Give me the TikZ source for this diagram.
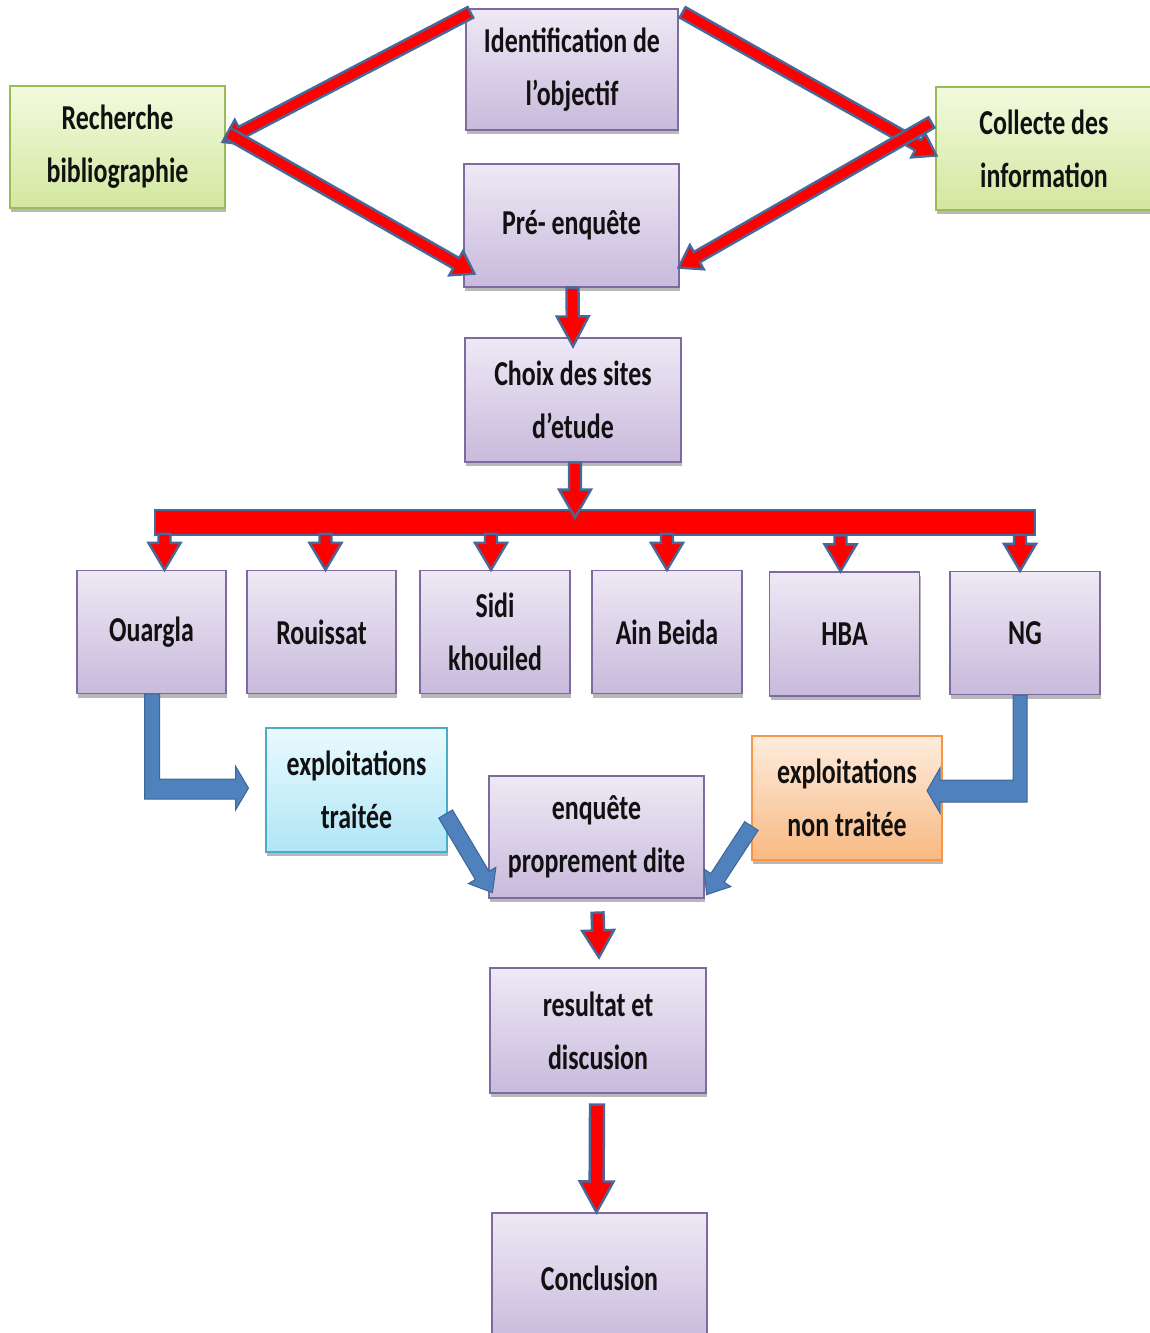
\documentclass[tikz,border=0pt]{standalone}
\usepackage{fontspec}
\setmainfont{Carlito}[FakeStretch=0.74]
\usetikzlibrary{calc,shadows}
\definecolor{lavtop}{HTML}{EEE9F5}
\definecolor{lavbot}{HTML}{C8BADC}
\definecolor{lavdraw}{HTML}{7F6A9F}
\definecolor{grtop}{HTML}{F3FADF}
\definecolor{grbot}{HTML}{D3E79F}
\definecolor{grdraw}{HTML}{9BBB59}
\definecolor{cytop}{HTML}{E9FAFE}
\definecolor{cybot}{HTML}{B0E5F6}
\definecolor{cydraw}{HTML}{4BACC6}
\definecolor{ortop}{HTML}{FDECDD}
\definecolor{orbot}{HTML}{F8B982}
\definecolor{ordraw}{HTML}{F79646}
\definecolor{arrred}{HTML}{FF0000}
\definecolor{arrblue}{HTML}{46699A}
\definecolor{bluefill}{HTML}{4F81BD}
\definecolor{bluedraw}{HTML}{3D6796}
\definecolor{txt}{HTML}{111111}
% #1 style, #2 start, #3 end, #4 half shaft, #5 half head, #6 head length
\newcommand\fatarrow[6]{%
  \coordinate (fas) at (#2);
  \coordinate (fae) at (#3);
  \coordinate (fah) at ($(fae)!#6!(fas)$);
  \path[#1] ($(fas)!#4!90:(fae)$) -- ($(fah)!#4!-90:(fas)$)
    -- ($(fah)!#5!-90:(fas)$) -- (fae) -- ($(fah)!#5!90:(fas)$)
    -- ($(fah)!#4!90:(fas)$) -- ($(fas)!#4!-90:(fae)$) -- cycle;
}
\begin{document}
\begin{tikzpicture}[x=1pt,y=-1pt,
  basebox/.style={rectangle, line width=1.2pt, inner sep=0pt, align=center,
    text=txt, font=\bfseries\fontsize{35}{53}\selectfont,
    drop shadow={shadow xshift=1pt, shadow yshift=-4pt, fill=black, opacity=0.28}},
  lav/.style={basebox, draw=lavdraw, top color=lavtop, bottom color=lavbot},
  grn/.style={basebox, draw=grdraw, top color=grtop, bottom color=grbot},
  cya/.style={basebox, draw=cydraw, top color=cytop, bottom color=cybot},
  ora/.style={basebox, draw=ordraw, top color=ortop, bottom color=orbot},
  redarr/.style={fill=arrred, draw=arrblue, line width=2.4pt, line join=miter},
  bluearr/.style={fill=bluefill, draw=bluedraw, line width=1pt, line join=miter},
]
\useasboundingbox[fill=white] (0,0) rectangle (1150,1333);

% nodes
\node[lav, minimum width=212, minimum height=121] (ident) at (572,69.5) {Identification de\\l’objectif};
\node[grn, minimum width=215, minimum height=122] (rech) at (117.5,147) {Recherche\\bibliographie};
\node[grn, minimum width=216, minimum height=123] (coll) at (1044,148.5) {Collecte des\\information};
\node[lav, minimum width=215, minimum height=123] (pre) at (571.5,225.5) {Pré- enquête};
\node[lav, minimum width=216, minimum height=124] (choix) at (573,400) {Choix des sites\\d’etude};

\node[lav, minimum width=149, minimum height=123] (ouargla) at (151.5,632) {Ouargla};
\node[lav, minimum width=149, minimum height=123] (rouissat) at (321.5,632) {Rouissat};
\node[lav, minimum width=150, minimum height=123] (sidi) at (495,632) {Sidi\\khouiled};
\node[lav, minimum width=150, minimum height=123] (ain) at (667,632) {Ain Beida};
\node[lav, minimum width=150, minimum height=124] (hba) at (844.5,634) {HBA};
\node[lav, minimum width=150, minimum height=123] (ng) at (1025,633) {NG};

\node[cya, minimum width=181, minimum height=124] (trait) at (356.5,790) {exploitations\\traitée};
\node[ora, minimum width=190, minimum height=124] (ntrait) at (847,798) {exploitations\\non traitée};
\node[lav, minimum width=215, minimum height=122] (enq) at (596.5,837) {enquête\\proprement dite};
\node[lav, minimum width=216, minimum height=125] (res) at (598,1030.5) {resultat et\\discusion};
\node[lav, minimum width=215, minimum height=130] (concl) at (599.5,1278) {Conclusion};

% red diagonal arrows
\fatarrow{redarr}{$(ident.north west)+(5,4)$}{$(rech.east)+(-3,-5)$}{6pt}{14pt}{21pt}
\fatarrow{redarr}{$(rech.east)+(2,-14)$}{$(pre.south west)+(11,-14)$}{6pt}{14pt}{21pt}
\fatarrow{redarr}{$(ident.north east)+(4,4)$}{$(coll.west)+(1,7)$}{6pt}{14pt}{21pt}
\fatarrow{redarr}{$(coll.west)+(-4,-26)$}{$(pre.south east)+(-1,-20)$}{6pt}{14pt}{21pt}

% vertical red arrows
\fatarrow{redarr}{$(pre.south)+(1,0)$}{$(choix.north)+(0,9)$}{6pt}{16pt}{30pt}

% distribution bar
\coordinate (barL) at (155,510);
\coordinate (barR) at (1035,535);
\path[redarr] (barL) rectangle (barR);
\fatarrow{redarr}{$(choix.south)+(2,0)$}{$(choix.south)+(2,55)$}{6pt}{16pt}{28pt}
\foreach \n/\dx in {ouargla/13, rouissat/4, sidi/-4, ain/0, hba/-4, ng/-5}{
  \fatarrow{redarr}{$(\n.north)+(\dx,-36)$}{$(\n.north)+(\dx,0)$}{6pt}{16pt}{27pt}
}

\fatarrow{redarr}{$(enq.south)+(1,14)$}{$(res.north)+(1,-10)$}{6pt}{16pt}{27pt}
\fatarrow{redarr}{$(res.south)+(-1,11)$}{$(concl.north)+(-3,0)$}{7pt}{17pt}{31pt}

% blue elbow arrows
\path[bluearr] ([xshift=-7pt]ouargla.south) -- ++(0,105) -- ++(91,0) -- ++(0,11)
  -- ++(13,-22) -- ++(-13,-22) -- ++(0,13) -- ++(-76,0) -- ++(0,-85) -- cycle;
\path[bluearr] ([xshift=2pt]ng.south) -- ++(0,107) -- ++(-87,0) -- ++(0,11)
  -- ++(-13,-22.5) -- ++(13,-22.5) -- ++(0,12) -- ++(73,0) -- ++(0,-85) -- cycle;

% blue diagonal arrows
\fatarrow{bluearr}{$(trait.east)+(-2,24)$}{$(enq.south west)+(4,-6)$}{8pt}{16pt}{20pt}
\fatarrow{bluearr}{$(ntrait.west)+(0,28)$}{$(enq.south east)+(2,-4)$}{8pt}{16pt}{20pt}
\end{tikzpicture}
\end{document}
